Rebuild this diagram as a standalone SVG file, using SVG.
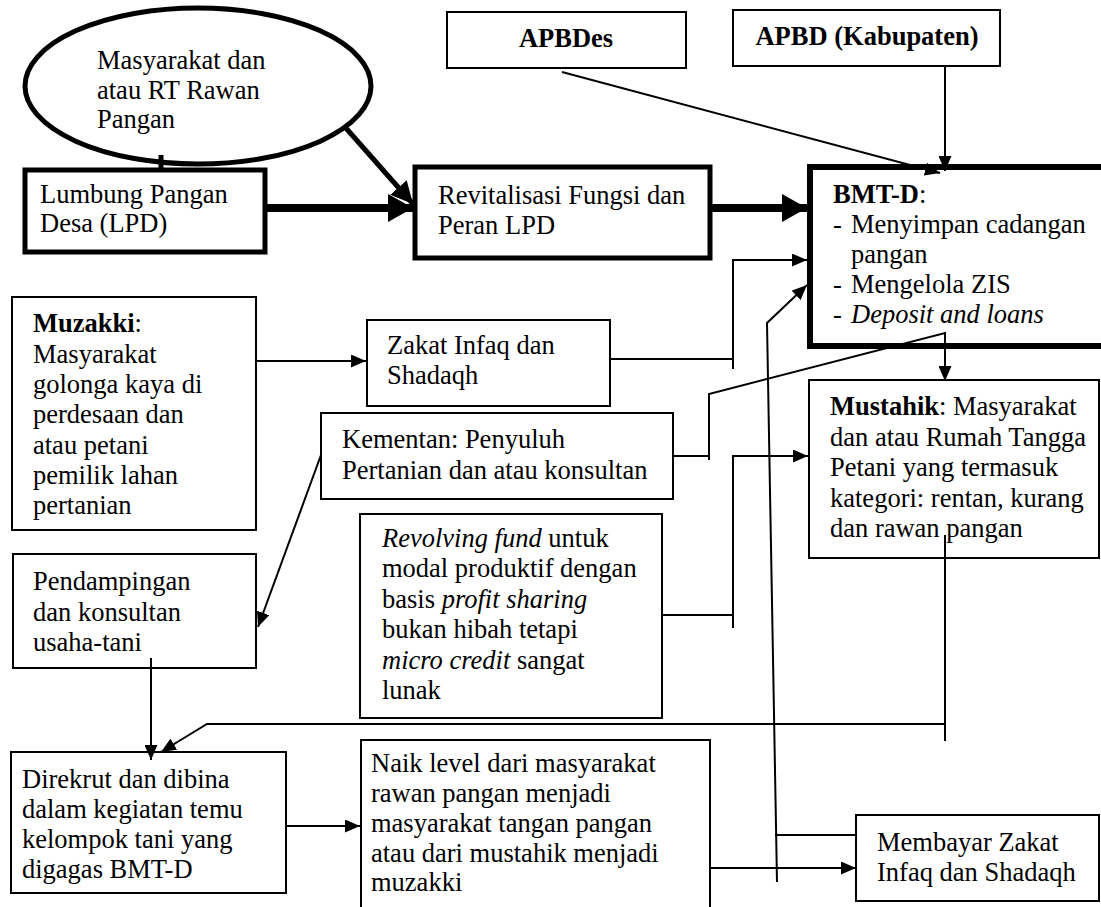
<svg xmlns="http://www.w3.org/2000/svg" width="1101" height="907" viewBox="0 0 1101 907">
<style>
text{font-family:"Liberation Serif","Times New Roman",serif;font-size:26.5px;fill:#000}
.b{font-weight:bold}
.i{font-style:italic}
.thin{fill:#fff;stroke:#000;stroke-width:2}
.thick{fill:#fff;stroke:#000;stroke-width:5}
.c{fill:none;stroke:#000;stroke-width:2}
.ct{fill:none;stroke:#000;stroke-width:8}
</style>
<defs>
<marker id="a" markerUnits="userSpaceOnUse" markerWidth="15" markerHeight="13" refX="15" refY="6.5" orient="auto"><path d="M0,0 L15,6.5 L0,13 z" fill="#000"/></marker>
<marker id="A" markerUnits="userSpaceOnUse" markerWidth="25" markerHeight="28" refX="25" refY="14" orient="auto"><path d="M0,0 L25,14 L0,28 z" fill="#000"/></marker>
<marker id="M" markerUnits="userSpaceOnUse" markerWidth="22" markerHeight="22" refX="22" refY="11" orient="auto"><path d="M0,0 L22,11 L0,22 z" fill="#000"/></marker>
</defs>
<rect width="1101" height="907" fill="#fff"/>
<g id="ellipse-rawan">
<ellipse cx="198" cy="86" rx="173" ry="78" fill="#fff" stroke="#000" stroke-width="5"/>
<text x="97" y="69">Masyarakat dan</text>
<text x="97" y="99">atau RT Rawan</text>
<text x="97" y="128">Pangan</text>
</g>
<g id="apbdes">
<rect class="thin" x="447" y="12" width="239" height="56"/>
<text class="b" x="566" y="47" text-anchor="middle">APBDes</text>
</g>
<g id="apbd">
<rect class="thin" x="733" y="10" width="267" height="56"/>
<text class="b" x="867" y="45" text-anchor="middle">APBD (Kabupaten)</text>
</g>
<g id="lumbung">
<rect class="thick" x="25" y="170" width="240" height="82"/>
<text x="40" y="203">Lumbung Pangan</text>
<text x="40" y="232">Desa (LPD)</text>
</g>
<g id="revitalisasi">
<rect class="thick" x="415" y="167" width="295" height="91"/>
<text x="438" y="204">Revitalisasi Fungsi dan</text>
<text x="438" y="234">Peran LPD</text>
</g>
<g id="bmtd">
<rect x="810" y="167" width="320" height="179" fill="#fff" stroke="#000" stroke-width="6"/>
<text x="833" y="203"><tspan class="b">BMT-D</tspan>:</text>
<text x="833" y="233">-</text><text x="851" y="233">Menyimpan cadangan</text>
<text x="851" y="263">pangan</text>
<text x="833" y="293">-</text><text x="851" y="293">Mengelola ZIS</text>
<text x="833" y="323">-</text><text class="i" x="851" y="323">Deposit and loans</text>
</g>
<g id="muzakki">
<rect class="thin" x="12" y="297" width="244" height="233"/>
<text x="33" y="332"><tspan class="b">Muzakki</tspan>:</text>
<text x="33" y="363">Masyarakat</text>
<text x="33" y="393">golonga kaya di</text>
<text x="33" y="423">perdesaan dan</text>
<text x="33" y="454">atau petani</text>
<text x="33" y="484">pemilik lahan</text>
<text x="33" y="514">pertanian</text>
</g>
<g id="zakat">
<rect class="thin" x="367" y="320" width="243" height="86"/>
<text x="387" y="354">Zakat Infaq dan</text>
<text x="387" y="384">Shadaqh</text>
</g>
<g id="kementan">
<rect class="thin" x="321" y="413" width="352" height="86"/>
<text x="342" y="448">Kementan: Penyuluh</text>
<text x="342" y="479">Pertanian dan atau konsultan</text>
</g>
<g id="mustahik">
<rect class="thin" x="809" y="380" width="290" height="178"/>
<text x="830" y="415"><tspan class="b">Mustahik</tspan>: Masyarakat</text>
<text x="830" y="446">dan atau Rumah Tangga</text>
<text x="830" y="476">Petani yang termasuk</text>
<text x="830" y="507">kategori: rentan, kurang</text>
<text x="830" y="537">dan rawan pangan</text>
</g>
<g id="revolving">
<rect class="thin" x="360" y="514" width="302" height="204"/>
<text x="382" y="547"><tspan class="i">Revolving fund</tspan> untuk</text>
<text x="382" y="577">modal produktif dengan</text>
<text x="382" y="608">basis <tspan class="i">profit sharing</tspan></text>
<text x="382" y="638">bukan hibah tetapi</text>
<text x="382" y="669"><tspan class="i">micro credit</tspan> sangat</text>
<text x="382" y="699">lunak</text>
</g>
<g id="pendampingan">
<rect class="thin" x="13" y="554" width="243" height="114"/>
<text x="33" y="590">Pendampingan</text>
<text x="33" y="621">dan konsultan</text>
<text x="33" y="651">usaha-tani</text>
</g>
<g id="direkrut">
<rect class="thin" x="11" y="752" width="275" height="141"/>
<text x="22" y="788">Direkrut dan dibina</text>
<text x="22" y="818">dalam kegiatan temu</text>
<text x="22" y="848">kelompok tani yang</text>
<text x="22" y="878">digagas BMT-D</text>
</g>
<g id="naik">
<rect class="thin" x="361" y="740" width="349" height="180"/>
<text x="371" y="772">Naik level dari masyarakat</text>
<text x="371" y="802">rawan pangan menjadi</text>
<text x="371" y="832">masyarakat tangan pangan</text>
<text x="371" y="862">atau dari mustahik menjadi</text>
<text x="371" y="891">muzakki</text>
</g>
<g id="membayar">
<rect class="thin" x="856" y="815" width="243" height="86"/>
<text x="877" y="851">Membayar Zakat</text>
<text x="877" y="881">Infaq dan Shadaqh</text>
</g>
<g id="connectors">
<line x1="161" y1="155" x2="161" y2="171" stroke="#000" stroke-width="5"/>
<line x1="345" y1="127" x2="413" y2="204" stroke="#000" stroke-width="5" marker-end="url(#M)"/>
<path class="ct" d="M267,208 H413" marker-end="url(#A)"/>
<path class="ct" d="M712,208 H807" marker-end="url(#A)"/>
<path class="c" d="M562,72 L940,173" marker-end="url(#a)"/>
<path class="c" d="M945,66 V171" marker-end="url(#a)"/>
<path class="c" d="M256,361 H366" marker-end="url(#a)"/>
<path class="c" d="M610,359 H733"/>
<path class="c" d="M733,369 V260 H807" marker-end="url(#a)"/>
<path class="c" d="M673,456 H709"/>
<path class="c" d="M709,460 V394 L945,333 V381" marker-end="url(#a)"/>
<path class="c" d="M777,882 L767,323 L807,285" marker-end="url(#a)"/>
<path class="c" d="M775,835 H856"/>
<path class="c" d="M662,615 H733"/>
<path class="c" d="M733,628 V456 H808" marker-end="url(#a)"/>
<path class="c" d="M945,535 V741"/>
<path class="c" d="M945,724 H207 L161,752" marker-end="url(#a)"/>
<path class="c" d="M321,455 L258,627" marker-end="url(#a)"/>
<path class="c" d="M151,658 V760" marker-end="url(#a)"/>
<path class="c" d="M286,826 H360" marker-end="url(#a)"/>
<path class="c" d="M710,868 H856" marker-end="url(#a)"/>
</g>
</svg>
